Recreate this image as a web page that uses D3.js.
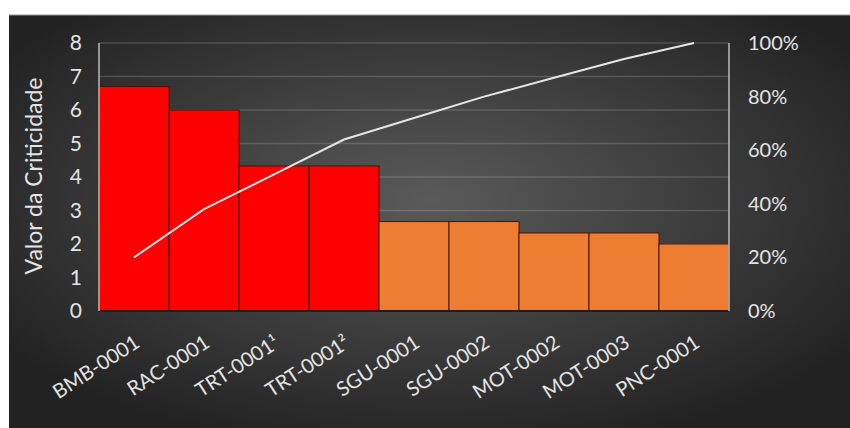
<html>
<head>
<script src="https://d3js.org/d3.v7.min.js"></script>
<style>
  body { margin: 0; background: #fff; }
  text { font-family: Lato, "Open Sans", sans-serif; fill: #e4e4e4; }
</style>
</head>
<body>
<div id="chart"></div>
<script>
const categories = ["BMB-0001", "RAC-0001", "TRT-0001¹", "TRT-0001²", "SGU-0001", "SGU-0002", "MOT-0002", "MOT-0003", "PNC-0001"];
const values = [6.7, 6.0, 4.33, 4.33, 2.67, 2.67, 2.33, 2.33, 2.0];
const groups = ["high", "high", "high", "high", "low", "low", "low", "low", "low"];
const cumulative = [20, 38, 51, 64, 72, 80, 87, 94, 100];
const leftTicks = [0, 1, 2, 3, 4, 5, 6, 7, 8];
const rightTicks = [0, 20, 40, 60, 80, 100];

const W = 850, H = 428;
const plot = {left: 99, right: 729, top: 43, bottom: 311};

const svg = d3.select("#chart").append("svg")
  .attr("width", W).attr("height", H);

const defs = svg.append("defs");
const grad = defs.append("radialGradient").attr("id", "bg")
  .attr("cx", "50%").attr("cy", "45%").attr("r", "62%");
grad.append("stop").attr("offset", "0%").attr("stop-color", "#5a5a5a");
grad.append("stop").attr("offset", "100%").attr("stop-color", "#222");

svg.append("rect").attr("x", 9).attr("y", 15).attr("width", W - 9).attr("height", H - 15)
  .attr("fill", "url(#bg)");
svg.append("line").attr("x1", 9).attr("x2", W).attr("y1", 15).attr("y2", 15)
  .attr("stroke", "#999").attr("stroke-width", 1);

const x = d3.scaleBand().domain(categories).range([plot.left, plot.right]).padding(0);
const y = d3.scaleLinear().domain([0, 8]).range([plot.bottom, plot.top]);
const y2 = d3.scaleLinear().domain([0, 100]).range([plot.bottom, plot.top]);
const color = d3.scaleOrdinal().domain(["high", "low"]).range(["#ff0000", "#ed7d31"]);

// gridlines
svg.append("g").selectAll("line").data(leftTicks.filter(d => d > 0)).join("line")
  .attr("x1", plot.left).attr("x2", plot.right)
  .attr("y1", d => y(d)).attr("y2", d => y(d))
  .attr("stroke", "rgba(255,255,255,0.16)").attr("stroke-width", 1.5);

// bars
svg.append("g").selectAll("rect").data(categories).join("rect")
  .attr("x", d => x(d))
  .attr("y", (d, i) => y(values[i]))
  .attr("width", x.bandwidth())
  .attr("height", (d, i) => y(0) - y(values[i]))
  .attr("fill", (d, i) => color(groups[i]))
  .attr("stroke", "#4a1200").attr("stroke-width", 1);

// baseline
svg.append("line").attr("x1", plot.left).attr("x2", plot.right)
  .attr("y1", y(0)).attr("y2", y(0)).attr("stroke", "#2a1a14").attr("stroke-width", 2);

// axis lines
svg.append("line").attr("x1", plot.left).attr("x2", plot.left)
  .attr("y1", plot.top).attr("y2", plot.bottom).attr("stroke", "#bbb").attr("stroke-width", 1.5);
svg.append("line").attr("x1", plot.right).attr("x2", plot.right)
  .attr("y1", plot.top).attr("y2", plot.bottom).attr("stroke", "#bbb").attr("stroke-width", 1.5);

// pareto line
const line = d3.line()
  .x((d, i) => x(categories[i]) + x.bandwidth() / 2)
  .y(d => y2(d));
svg.append("path").datum(cumulative)
  .attr("d", line).attr("fill", "none")
  .attr("stroke", "#e6e6e6").attr("stroke-width", 2);

// left axis
const leftAxis = svg.append("g").attr("transform", `translate(${plot.left},0)`)
  .call(d3.axisLeft(y).tickValues(leftTicks).tickSize(0).tickPadding(17));
leftAxis.select(".domain").remove();
leftAxis.selectAll("text").style("font-size", "21px").attr("fill", "#e4e4e4");

// right axis
const rightAxis = svg.append("g").attr("transform", `translate(${plot.right},0)`)
  .call(d3.axisRight(y2).tickValues(rightTicks).tickSize(0).tickPadding(19).tickFormat(d => d + "%"));
rightAxis.select(".domain").remove();
rightAxis.selectAll("text").style("font-size", "20px").attr("fill", "#e4e4e4");

// x labels
svg.append("g").selectAll("text").data(categories).join("text")
  .attr("transform", d => `translate(${x(d) + x.bandwidth() / 2 + 7},${plot.bottom + 35}) rotate(-33)`)
  .attr("text-anchor", "end")
  .style("font-size", "20px")
  .text(d => d);

// y title
svg.append("text")
  .attr("transform", `translate(42,176) rotate(-90)`)
  .attr("text-anchor", "middle")
  .style("font-size", "23px")
  .text("Valor da Criticidade");
</script>
</body>
</html>
